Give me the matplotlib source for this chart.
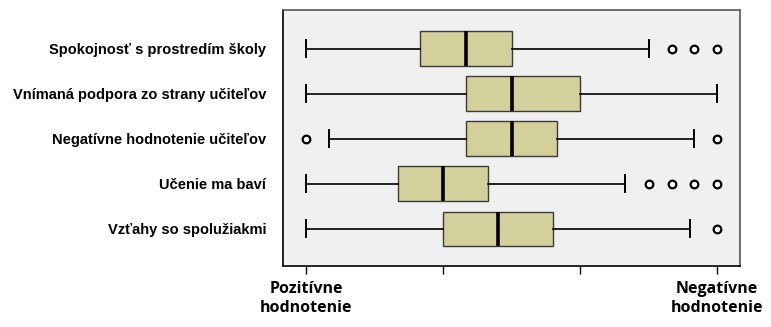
import numpy as np
import matplotlib
matplotlib.use("Agg")
import matplotlib.pyplot as plt

# Categories (top to bottom)
labels = ["Spokojnosť s prostredím školy",
          "Vnímaná podpora zo strany učiteľov",
          "Negatívne hodnotenie učiteľov",
          "Učenie ma baví",
          "Vzťahy so spolužiakmi"]

# Box statistics (scale 1-4)
whislo = [1.0, 1.0, 1.17, 1.0, 1.0]
q1 = [1.83, 2.17, 2.17, 1.67, 2.0]
med = [2.17, 2.5, 2.5, 2.0, 2.4]
q3 = [2.5, 3.0, 2.83, 2.33, 2.8]
whishi = [3.5, 4.0, 3.83, 3.33, 3.8]
fliers = [[3.67, 3.83, 4.0],
          [],
          [1.0, 4.0],
          [3.5, 3.67, 3.83, 4.0],
          [4.0]]

xticks = [1, 2, 3, 4]
xticklabels = ["Pozitívne\nhodnotenie", "", "", "Negatívne\nhodnotenie"]

stats = []
for i in range(len(labels)):
    stats.append({"label": labels[i], "whislo": whislo[i], "q1": q1[i],
                  "med": med[i], "q3": q3[i], "whishi": whishi[i],
                  "fliers": np.array(fliers[i])})

fig = plt.figure(figsize=(7.71, 3.27), dpi=100)
ax = fig.add_axes([0.367, 0.187, 0.593, 0.783])
ax.set_facecolor("#f0f0f0")

pos = np.arange(1, len(labels) + 1)
ax.bxp(stats, positions=pos, vert=False, widths=0.77, capwidths=0.38,
       patch_artist=True, showfliers=True,
       boxprops=dict(facecolor="#d4d09b", edgecolor="#3a3a3a", linewidth=1.0),
       medianprops=dict(color="black", linewidth=2.6),
       whiskerprops=dict(color="black", linewidth=1.2),
       capprops=dict(color="black", linewidth=1.4),
       flierprops=dict(marker="o", markersize=5.5, markerfacecolor="white",
                       markeredgecolor="black", markeredgewidth=1.6))

ax.set_xlim(0.832, 4.168)
ax.set_ylim(5.82, 0.14)
ax.set_yticks(pos)
ax.set_yticklabels(labels, fontsize=10.5, fontweight="bold",
                   family="Liberation Sans")
ax.tick_params(axis="y", length=0, pad=12)
ax.set_xticks(xticks)
ax.set_xticklabels(xticklabels, fontsize=11.5, fontweight="bold",
                   family="Open Sans", linespacing=1.2)
ax.tick_params(axis="x", length=6, width=1, color="black", pad=5)

for s in ax.spines.values():
    s.set_color("#555555")
    s.set_linewidth(1.2)
ax.spines["bottom"].set_color("black")
ax.spines["left"].set_color("black")

fig.savefig("out.png", dpi=100)
